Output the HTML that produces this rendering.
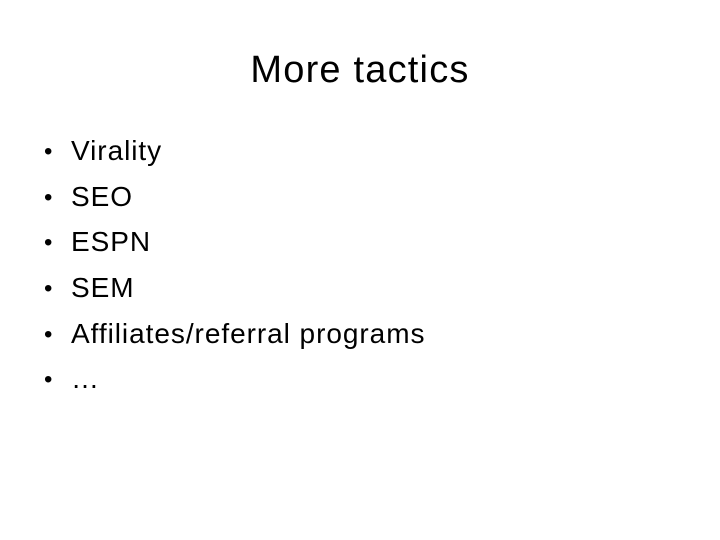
<!DOCTYPE html>
<html><head><style>
body{margin:0;width:720px;height:540px;background:#fff;font-family:"Liberation Sans",sans-serif;color:#000;position:relative;overflow:hidden}
.t{position:absolute;top:49px;left:0;width:720px;text-align:center;font-size:38px;letter-spacing:1.2px}
.b{position:absolute;left:44px;font-size:28px}
.b span{position:absolute;left:0;font-size:24px;top:3px}
.b i{font-style:normal;position:absolute;left:27px;white-space:nowrap;letter-spacing:0.95px}
</style></head><body>
<div class="t">More tactics</div>
<div class="b" style="top:135px"><span>•</span><i>Virality</i></div>
<div class="b" style="top:181px"><span>•</span><i>SEO</i></div>
<div class="b" style="top:226px"><span>•</span><i>ESPN</i></div>
<div class="b" style="top:272px"><span>•</span><i>SEM</i></div>
<div class="b" style="top:318px"><span>•</span><i>Affiliates/referral programs</i></div>
<div class="b" style="top:363px"><span>•</span><i>…</i></div>
</body></html>
